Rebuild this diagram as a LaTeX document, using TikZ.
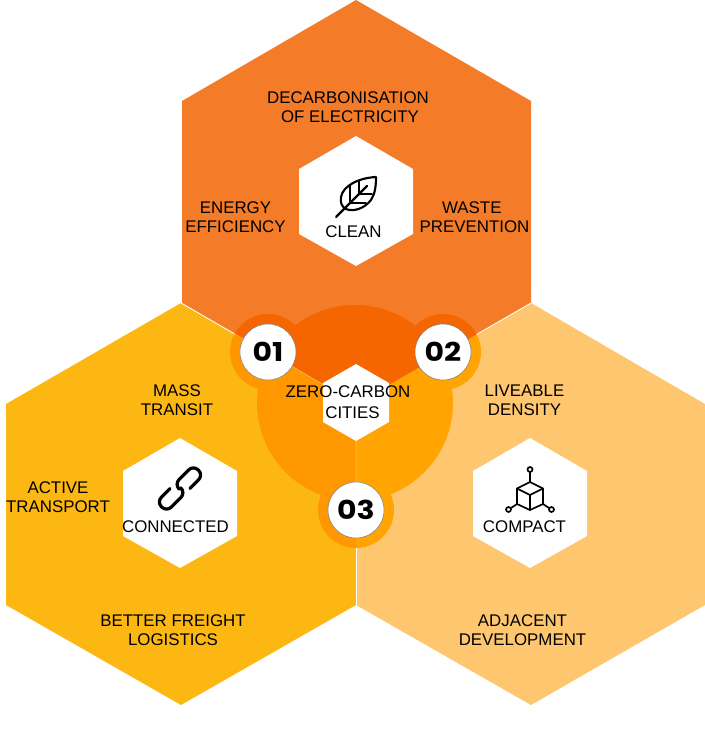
\documentclass[tikz,border=0pt]{standalone}
\usepackage{fontspec}
\setmainfont{Liberation Sans}
\newfontfamily\numfont[FakeStretch=1.15]{Poppins}
\usepackage{xcolor}
\definecolor{CleanOrange}{HTML}{F47B27}
\definecolor{LinkYellow}{HTML}{FDB713}
\definecolor{DenseSand}{HTML}{FFC670}
\definecolor{CoreTop}{HTML}{F56500}
\definecolor{CoreLeft}{HTML}{FF9800}
\definecolor{CoreRight}{HTML}{FFA400}
\definecolor{SeamGold}{HTML}{FFC83C}
\usetikzlibrary{positioning}
\newcommand{\tophex}{(356,0) -- (531,101) -- (531,303) -- (356,404) -- (182,303) -- (182,101) -- cycle}
\newcommand{\lefthex}{(181,303) -- (356,404) -- (356,605) -- (181,705) -- (6,605) -- (6,404) -- cycle}
\newcommand{\righthex}{(531,303) -- (705,404) -- (705,605) -- (531,705) -- (356,605) -- (356,404) -- cycle}
\newcommand{\coreblobs}{(355,403) circle[radius=98] (268,352) circle[radius=38] (443,352) circle[radius=38] (356,510) circle[radius=38]}

\begin{document}
\begin{tikzpicture}[
    x=0.75pt, y=-0.75pt,
    font=\fontsize{12.65}{14.25}\selectfont,
    % Styles
    label/.style={align=center, inner sep=0pt, text=black},
    badge/.style={circle, draw=gray, thin, fill=white, minimum size=42pt, inner sep=0pt, font=\numfont\bfseries\fontsize{19.5}{19.5}\selectfont},
    icon/.style={draw=black, line width=1.6pt, line cap=round, line join=round},
    thinicon/.style={draw=black, line width=1.25pt, line cap=round, line join=round},
    chainlink/.style={draw=black, line width=2.4pt, line cap=round, rounded corners=5pt},
    seam/.style={white, line width=0.6pt}
]
    \useasboundingbox (0,0) rectangle (705,749);

    % 1. THE BIG HEXAGONS
    \fill[CleanOrange] \tophex;
    \fill[LinkYellow] \lefthex;
    \fill[DenseSand] \righthex;
    \draw[seam] (181,303) -- (356,404) -- (531,303);
    \draw[seam] (356,404) -- (356,605);

    % 2. THE CORE, one tint per hexagon
    \begin{scope}
        \clip \lefthex;
        \fill[CoreLeft] \coreblobs;
    \end{scope}
    \begin{scope}
        \clip \righthex;
        \fill[CoreRight] \coreblobs;
    \end{scope}
    \begin{scope}
        \clip \tophex;
        \fill[CoreTop] \coreblobs;
    \end{scope}
    \draw[SeamGold, line width=0.4pt] (268,352) -- (356,404) -- (356,510);

    % 3. THE WHITE HEXAGONS
    \fill[white] (356,136) -- (413,169) -- (413,234) -- (356,266) -- (299,234) -- (299,169) -- cycle;
    \fill[white] (180,438) -- (237,471) -- (237,536) -- (180,568) -- (123,536) -- (123,471) -- cycle;
    \fill[white] (530,438) -- (587,471) -- (587,536) -- (530,568) -- (473,536) -- (473,471) -- cycle;
    \fill[white] (356,364) -- (389,383) -- (389,422) -- (356,441) -- (323,422) -- (323,383) -- cycle;

    % 4. THE BADGES
    \node[badge] (one) at (268,352) {01};
    \node[badge] (two) at (443,352) {02};
    \node[badge] (three) at (356,510) {03};

    % 5. THE LABELS
    \node[label] (decarb) at (348,107) {DECARBONISATION\\\hspace*{3pt}OF ELECTRICITY};
    \node[label] (energy) at (235.5,217) {ENERGY\\EFFICIENCY};
    \node[label] (waste) at (474.5,217) {WASTE\hspace*{4pt}\\PREVENTION};
    \node[label] (clean) at (353.5,232) {CLEAN};
    \node[label] (mass) at (177,400) {MASS\\TRANSIT};
    \node[label] (active) at (58,497.5) {ACTIVE\\TRANSPORT};
    \node[label] (connected) at (175.5,527) {CONNECTED};
    \node[label] (freight) at (173,630) {BETTER FREIGHT\\LOGISTICS};
    \node[label] (liveable) at (524.5,400) {LIVEABLE\\DENSITY};
    \node[label] (compact) at (524.5,527) {COMPACT};
    \node[label] (adjacent) at (522.5,630) {ADJACENT\\DEVELOPMENT};
    \node[label] (zerocarbon) at (348,392) {ZERO-CARBON};
    \node[label] (cities) at (352.5,413) {CITIES};

    % 6. THE ICONS
    % Leaf
    \draw[icon] (376,177) .. controls (358,178) and (343,186) .. (341,197) .. controls (340,203) and (342,207) .. (346,209) .. controls (353,212) and (364,209) .. (371,200) .. controls (375,194) and (376,186) .. (376,177);
    \draw[icon] (336,217) -- (367,186);
    \draw[thinicon] (350,203) -- (350,186) (350,203) -- (366,203) (359,194) -- (359,181) (359,194) -- (372,194);

    % Chain
    \begin{scope}[shift={(180,488.5)}, rotate=45]
        \draw[chainlink] (7,7) -- (26,7) -- (26,-7) -- (-1,-7) -- (-1,0);
        \draw[chainlink] (-7,-7) -- (-26,-7) -- (-26,7) -- (1,7) -- (1,0);
    \end{scope}

    % Cube
    \draw[thinicon] (530,482) -- (543,488.5) -- (543,504) -- (530,510) -- (517,504) -- (517,488.5) -- cycle;
    \draw[thinicon] (517,488.5) -- (530,495) -- (543,488.5) (530,495) -- (530,510);
    \draw[thinicon] (530,472) -- (530,482) (517,504) -- (511,508) (543,504) -- (549,508);
    \draw[thinicon] (530,469.5) circle[radius=2.5] (508.5,509.5) circle[radius=2.5] (551.5,509.5) circle[radius=2.5];

\end{tikzpicture}
\end{document}
